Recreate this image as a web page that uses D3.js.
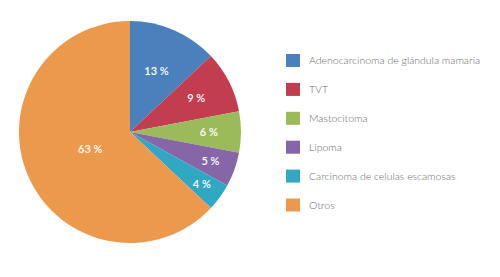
<!DOCTYPE html>
<html>
<head>
<meta charset="utf-8">
<script src="https://cdn.jsdelivr.net/npm/d3@7"></script>
<style>
  body { margin: 0; background: #fff; }
  svg { display: block; }
</style>
</head>
<body>
<svg id="chart"></svg>
<script>
// data
const categories = ["Adenocarcinoma de glándula mamaria", "TVT", "Mastocitoma", "Lipoma", "Carcinoma de celulas escamosas", "Otros"];
const values = [13, 9, 6, 5, 4, 63];
const colors = ["#4a80bc", "#c13d4f", "#9bbb5a", "#8766a8", "#30a8c4", "#ec994e"];

// label distance from centre, as a fraction of the radius
const labelPos = [0.6, 0.67, 0.71, 0.77, 0.8, 0.39];

const width = 500, height = 277;
const cx = 130, cy = 132, radius = 111;

const svg = d3.select("#chart")
  .attr("width", width)
  .attr("height", height);

const pie = d3.pie().sort(null).value(d => d);
const arcs = pie(values);
const arc = d3.arc().innerRadius(0).outerRadius(radius);

const g = svg.append("g")
  .attr("transform", "translate(" + cx + "," + cy + ")");

g.selectAll("path")
  .data(arcs)
  .enter()
  .append("path")
  .attr("d", arc)
  .attr("fill", (d, i) => colors[i]);

g.selectAll(".lbl")
  .data(arcs)
  .enter()
  .append("text")
  .attr("class", "lbl")
  .attr("transform", (d, i) => {
    const r = radius * labelPos[i];
    const a = (d.startAngle + d.endAngle) / 2;
    return "translate(" + (Math.sin(a) * r) + "," + (-Math.cos(a) * r) + ")";
  })
  .attr("text-anchor", "middle")
  .attr("dy", "0.35em")
  .style("font-family", "Lato, sans-serif")
  .style("font-size", "11px")
  .style("font-weight", "600")
  .attr("fill", "#fff")
  .text(d => d.data + " %");

// legend
const legend = svg.append("g");
const y = d3.scalePoint().domain(categories).range([60.5, 205]);

const rows = legend.selectAll("g")
  .data(categories)
  .enter()
  .append("g")
  .attr("transform", d => "translate(286," + y(d) + ")");

rows.append("rect")
  .attr("x", 0)
  .attr("y", -6.5)
  .attr("width", 14)
  .attr("height", 13)
  .attr("fill", (d, i) => colors[i]);

rows.append("text")
  .attr("x", 23)
  .attr("dy", "0.35em")
  .style("font-family", "Lato, sans-serif")
  .style("font-size", "10.5px")
  .style("font-weight", "300")
  .attr("fill", "#6a6a6a")
  .text(d => d);
</script>
</body>
</html>
